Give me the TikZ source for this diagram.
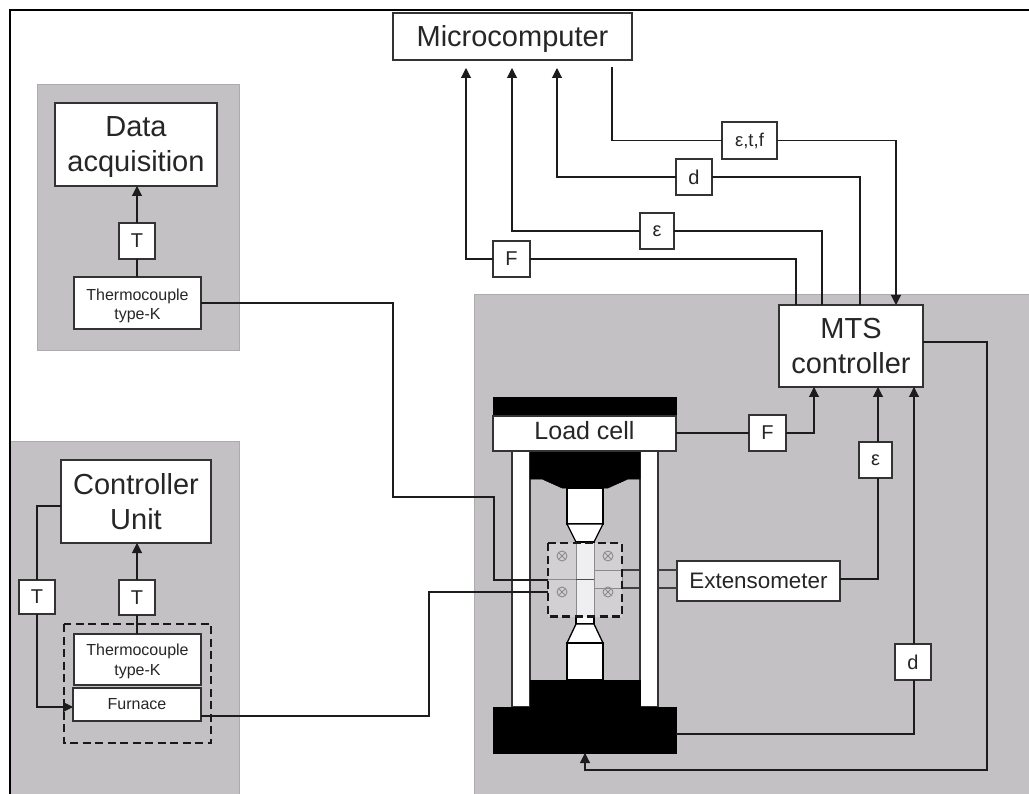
\documentclass[tikz,border=0pt]{standalone}
\usepackage{fontspec}
\setmainfont{Liberation Sans}
\usetikzlibrary{arrows.meta}
\definecolor{panelgray}{HTML}{C3C1C4}
\definecolor{paneledge}{HTML}{ADABAE}
\definecolor{boxedge}{HTML}{333333}
\definecolor{inkline}{HTML}{1C1C1C}
\definecolor{hotzone}{HTML}{D2D0D3}
\definecolor{hotbar}{HTML}{D8D6D9}
\definecolor{hotspec}{HTML}{EFEEF0}
\definecolor{hotedge}{HTML}{8C8A8D}
\tikzset{
  panel/.style={fill=panelgray,draw=paneledge,line width=1pt},
  box/.style={draw=boxedge,fill=white,line width=1.2pt,inner sep=0pt,outer sep=0pt,align=center,text=black!85},
  big/.style={font=\fontsize{29}{35}\selectfont},
  mid/.style={font=\fontsize{25}{30}\selectfont},
  ext/.style={font=\fontsize{22.4}{26}\selectfont},
  small/.style={font=\fontsize{16}{19.5}\selectfont},
  tag/.style={font=\fontsize{20}{24}\selectfont},
  tagsmall/.style={font=\fontsize{18.5}{24}\selectfont},
  solidblack/.style={fill=black,draw=black,line width=.5pt},
  conn/.style={draw=inkline,line width=1.1pt},
  arr/.style={conn,-{Triangle[length=10pt,width=10pt]}},
  grip/.style={fill=white,draw=black,line width=1.3pt},
  dashbox/.style={draw=black!90,line width=2.5pt,dash pattern=on 8pt off 4.5pt},
  bolt/.style={draw=hotedge,line width=.9pt},
}
\newcommand{\mybox}[7]{%
  \pgfmathsetmacro\cxx{(#3+#5)/2}\pgfmathsetmacro\cyy{(#4+#6)/2}%
  \pgfmathsetmacro\wdd{#5-#3}\pgfmathsetmacro\htt{#6-#4}%
  \node[box,#1,minimum width=\wdd pt,minimum height=\htt pt] (#2) at (\cxx,\cyy) {#7};}
\newcommand{\tallstrut}[1]{\rule{0pt}{#1pt}}
\newcommand{\deepstrut}[1]{\rule[-#1pt]{0pt}{#1pt}}
\begin{document}
\begin{tikzpicture}[x=1pt,y=-1pt]
\useasboundingbox (0,0) rectangle (1029,794);
\fill[white] (0,0) rectangle (1029,794);
% panels
\fill[panelgray] (474.5,295) rectangle (1029,794);
\draw[paneledge,line width=1pt] (474.5,794) -- (474.5,295) -- (1029,295);
\fill[panelgray] (10,442) rectangle (239,794);
\draw[paneledge,line width=1pt] (10,442) -- (239,442) -- (239,794);
\draw[panel] (37,85) rectangle (239,351);
\draw[black,line width=2pt] (10,794) -- (10,10.5) -- (1029,10.5);
% boxes
\mybox{big}{micro}{393}{13}{632}{60}{\tallstrut{26}Microcomputer}
\mybox{big}{daq}{55}{103}{217}{186}{\tallstrut{26}Data\\acquisition}
\mybox{tag}{t1}{119}{223}{155}{259}{T}
\mybox{small}{tc1}{74}{277}{201}{329}{\tallstrut{17}Thermocouple\\type-K}
\mybox{big}{ctrl}{61}{460}{211}{543}{Controller\\Unit}
\mybox{tag}{t2}{19}{580}{55}{614}{T}
\mybox{tag}{t3}{119}{580}{155}{615}{T}
\draw[dashbox] (64,624) rectangle (211,743);
\mybox{small}{tc2}{74}{634}{201}{685}{\tallstrut{15}Thermocouple\\type-K}
\mybox{small}{furn}{73}{688}{201}{721}{Furnace}
\mybox{big}{mts}{779}{305}{923}{387}{MTS\\controller}
\mybox{tagsmall}{etf}{722}{122}{777}{159}{ε,t,f}
\mybox{tag}{du}{676}{159}{712}{195}{d}
\mybox{tag}{eu}{640}{213}{674}{249}{ε}
\mybox{tag}{fu}{493}{241}{530}{277}{F}
\mybox{tag}{fl}{749}{415}{786}{451}{F}
\mybox{tag}{el}{859}{442}{892}{478}{ε}
\mybox{tag}{dl}{895}{644}{931}{680}{d}
\mybox{ext}{exten}{677}{561}{840}{601}{Extensometer}
% extensometer rods pass behind the right column
\draw[conn,draw=black!75] (exten.west |- 0,570) -- (622,570);
\draw[conn,draw=black!75] (exten.west |- 0,588) -- (622,588);
% machine
\mybox{}{lcol}{512}{451}{530}{707}{}
\mybox{}{rcol}{640}{451}{658}{707}{}
\fill[solidblack] (530,451) -- (530,479) -- (542,479) -- (562,488) -- (608,488) -- (628,479) -- (640,479) -- (640,451) -- cycle;
\mybox{solidblack}{lowhead}{530}{680}{640}{707}{}
\filldraw[grip] (567,488) rectangle (603,524);
\filldraw[grip] (567,524) -- (603,524) -- (594,542) -- (576,542) -- cycle;
\filldraw[grip] (576,542) rectangle (594,624);
\filldraw[grip] (576,624) -- (594,624) -- (603,643) -- (567,643) -- cycle;
\filldraw[grip] (567,643) rectangle (603,680);
\mybox{solidblack}{topbar}{493}{397}{676}{416}{}
\mybox{mid}{load}{493}{416}{676}{451}{\deepstrut{6}Load cell}
\mybox{solidblack}{base}{493}{707}{676}{753}{}
% furnace overlay on the specimen
\fill[hotzone] (548,543) rectangle (622,616.5);
\fill[hotspec] (576,543) rectangle (594,616.5);
\draw[hotedge,line width=1pt] (576,543) -- (576,616.5) (594,543) -- (594,616.5);
\filldraw[fill=hotbar,draw=hotedge,line width=1pt] (594,570) rectangle (622,588);
\draw[hotedge,line width=1pt] (548,579.5) -- (576,579.5);
\draw[black!70,line width=1.6pt] (576,579.5) -- (594,579.5);
\foreach \bxp/\byp in {562/556,608/556,562/592,608/592}{
  \draw[bolt] (\bxp,\byp) circle (5);
  \draw[bolt] (\bxp-3.5,\byp-3.5) -- (\bxp+3.5,\byp+3.5) (\bxp-3.5,\byp+3.5) -- (\bxp+3.5,\byp-3.5);
}
\coordinate (hotA) at (548,580);
\coordinate (hotB) at (548,592);
\draw[dashbox] (548,543) rectangle (622,616.5);
% free ends at the microcomputer
\coordinate (mF) at (466,68);
\coordinate (mE) at (512,68);
\coordinate (mD) at (557,68);
\coordinate (mO) at (612,67);
% connectors: left side
\draw[arr] (t1.north) -- (daq.south -| t1.north);
\draw[conn] (tc1.north -| t1.south) -- (t1.south);
\draw[arr] (t3.north) -- (ctrl.south -| t3.north);
\draw[conn] (tc2.north -| t3.south) -- (t3.south);
\draw[conn] (ctrl.west |- 0,506) -| (t2.north);
\draw[arr] (t2.south) |- (furn.west |- 0,707);
\draw[conn] (tc1.east) -- (393,303) -- (393,497) -- (494,497) |- (hotA);
\draw[conn] (furn.east |- 0,716) -- (429,716) |- (hotB);
% connectors: microcomputer and MTS
\draw[conn] (mO) |- (etf.west);
\draw[arr] (etf.east) -| (896,305);
\draw[arr] (du.west) -| (mD);
\draw[conn] (du.east) -| (860,305);
\draw[arr] (eu.west) -| (mE);
\draw[conn] (eu.east) -| (822,305);
\draw[arr] (fu.west) -| (mF);
\draw[conn] (fu.east) -| (796,305);
\draw[conn] (load.east |- fl.west) -- (fl.west);
\draw[arr] (fl.east) -| (814,387);
\draw[arr] (el.north -| 878,0) -- (878,387);
\draw[conn] (exten.east |- 0,579) -| (878,478);
\draw[arr] (dl.north -| 914,0) -- (914,387);
\draw[conn] (base.east |- 0,734) -| (914,680);
\draw[arr] (mts.east |- 0,342) -- (987,342) -- (987,770) -- (585,770) -- (base.south -| 585,0);
\end{tikzpicture}
\end{document}
